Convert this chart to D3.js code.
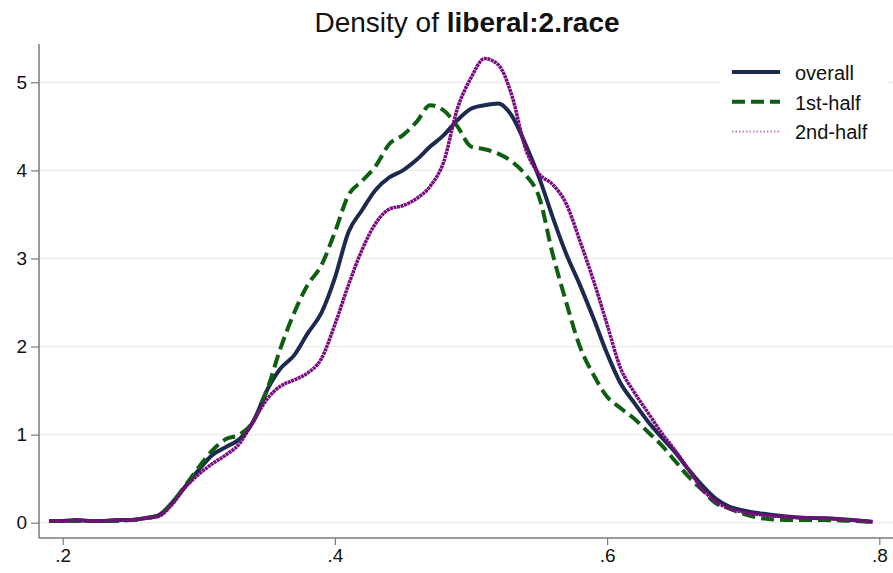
<!DOCTYPE html>
<html>
<head>
<meta charset="utf-8">
<script src="https://cdn.jsdelivr.net/npm/d3@7.9.0/dist/d3.min.js"></script>
<style>
  body { margin: 0; background: #fff; }
  text { font-family: "Liberation Sans", Arial, sans-serif; fill: #111; }
</style>
</head>
<body>
<svg id="chart" width="893" height="573"></svg>
<script>
// grid of x values shared by the three density curves
const xs = [0.19, 0.20, 0.21, 0.22, 0.23, 0.24, 0.25, 0.26, 0.27, 0.28, 0.29, 0.30,
  0.31, 0.32, 0.33, 0.34, 0.35, 0.36, 0.37, 0.38, 0.39, 0.40, 0.41, 0.42, 0.43,
  0.44, 0.45, 0.46, 0.47, 0.48, 0.49, 0.50, 0.51, 0.52, 0.53, 0.54, 0.55, 0.56,
  0.57, 0.58, 0.59, 0.60, 0.61, 0.62, 0.63, 0.64, 0.65, 0.66, 0.67, 0.68, 0.69,
  0.70, 0.72, 0.74, 0.76, 0.78, 0.795];

const overall = [0.02, 0.02, 0.03, 0.02, 0.02, 0.03, 0.03, 0.05, 0.08, 0.22, 0.41, 0.60,
  0.77, 0.86, 0.95, 1.15, 1.50, 1.75, 1.90, 2.15, 2.38, 2.78, 3.30, 3.55, 3.78,
  3.92, 4.00, 4.12, 4.27, 4.40, 4.57, 4.70, 4.74, 4.76, 4.62, 4.30, 3.92, 3.47,
  3.05, 2.70, 2.32, 1.92, 1.58, 1.36, 1.15, 0.97, 0.80, 0.60, 0.42, 0.27, 0.18,
  0.14, 0.09, 0.06, 0.05, 0.03, 0.01];

const firstHalf = [0.02, 0.02, 0.02, 0.02, 0.02, 0.02, 0.03, 0.05, 0.08, 0.22, 0.42, 0.63,
  0.82, 0.95, 1.00, 1.15, 1.50, 1.98, 2.38, 2.70, 2.92, 3.30, 3.72, 3.88, 4.05,
  4.30, 4.40, 4.55, 4.74, 4.68, 4.50, 4.27, 4.24, 4.19, 4.10, 3.95, 3.70, 3.05,
  2.50, 2.00, 1.68, 1.43, 1.30, 1.18, 1.03, 0.88, 0.70, 0.52, 0.37, 0.22, 0.16,
  0.10, 0.04, 0.03, 0.03, 0.02, 0.01];

const secondHalf = [0.02, 0.02, 0.03, 0.02, 0.02, 0.03, 0.03, 0.05, 0.07, 0.20, 0.40, 0.55,
  0.67, 0.77, 0.90, 1.15, 1.40, 1.55, 1.62, 1.70, 1.86, 2.25, 2.70, 3.10, 3.40,
  3.56, 3.60, 3.68, 3.82, 4.10, 4.70, 5.05, 5.27, 5.20, 4.85, 4.25, 3.96, 3.84,
  3.62, 3.20, 2.75, 2.25, 1.75, 1.48, 1.25, 1.02, 0.82, 0.60, 0.38, 0.24, 0.16,
  0.12, 0.08, 0.06, 0.05, 0.03, 0.01];

const xTicks = [0.2, 0.4, 0.6, 0.8];
const xTickLabels = ['.2', '.4', '.6', '.8'];
const yTicks = [0, 1, 2, 3, 4, 5];

const series = [
  { name: 'overall', values: overall, color: '#1b2a4e', width: 4, dash: null },
  { name: '1st-half', values: firstHalf, color: '#0f5f12', width: 4, dash: '13,6' },
  { name: '2nd-half', values: secondHalf, color: '#7a0a80', width: 3.5, dash: '3,0.6' }
];

const svg = d3.select('#chart');
const x = d3.scaleLinear().domain([0.2, 0.8]).range([62.7, 879.3]);
const y = d3.scaleLinear().domain([0, 5]).range([522.7, 82.3]);
const plotLeft = 39, plotRight = 893, plotTop = 44, plotBottom = 538;

// gridlines
svg.append('g')
  .selectAll('line')
  .data(yTicks)
  .join('line')
  .attr('x1', plotLeft).attr('x2', plotRight)
  .attr('y1', d => y(d)).attr('y2', d => y(d))
  .attr('stroke', '#ebebeb').attr('stroke-width', 1.2);

// axes
const yAxis = d3.axisLeft(y).tickValues(yTicks).tickSize(8).tickPadding(4).tickFormat(d3.format('d'));
const gy = svg.append('g').attr('transform', `translate(${plotLeft},0)`).call(yAxis);
gy.select('.domain').attr('d', `M0,${plotTop}V${plotBottom}`);

const xAxis = d3.axisBottom(x).tickValues(xTicks).tickSize(7).tickPadding(4)
  .tickFormat((d, i) => xTickLabels[i]);
const gx = svg.append('g').attr('transform', `translate(0,${plotBottom})`).call(xAxis);
gx.select('.domain').attr('d', `M${plotLeft},0H${plotRight}`);

[gx, gy].forEach(g => {
  g.select('.domain').attr('stroke', '#7a7a7a').attr('stroke-width', 1.5);
  g.selectAll('.tick line').attr('stroke', '#7a7a7a').attr('stroke-width', 1.2);
  g.selectAll('.tick text').attr('font-size', 19).attr('fill', '#111')
    .attr('font-family', '"Liberation Sans", Arial, sans-serif');
});

// curves
const line = d3.line()
  .x((d, i) => x(xs[i]))
  .y(d => y(d))
  .curve(d3.curveMonotoneX);

series.forEach(s => {
  svg.append('path')
    .datum(s.values)
    .attr('d', line)
    .attr('fill', 'none')
    .attr('stroke', s.color)
    .attr('stroke-width', s.width)
    .attr('stroke-linejoin', 'round')
    .attr('stroke-dasharray', s.dash);
});

// legend
const legend = svg.append('g');
legend.append('rect')
  .attr('x', 720).attr('y', 56).attr('width', 168).attr('height', 94)
  .attr('fill', '#fff');
series.forEach((s, i) => {
  const ly = 72 + i * 29.7;
  legend.append('line')
    .attr('x1', 732).attr('x2', 780)
    .attr('y1', ly).attr('y2', ly)
    .attr('stroke', s.color)
    .attr('stroke-width', s.name === '2nd-half' ? 2 : 4)
    .attr('stroke-dasharray', s.name === '2nd-half' ? '1.5,2' : s.dash)
    .attr('opacity', s.name === '2nd-half' ? 0.5 : 1);
  legend.append('text')
    .attr('x', 795).attr('y', ly + 8)
    .attr('font-size', 20)
    .text(s.name);
});

// title
const title = svg.append('text')
  .attr('x', 467).attr('y', 32)
  .attr('text-anchor', 'middle')
  .attr('font-size', 28);
title.append('tspan').text('Density of ');
title.append('tspan').attr('font-weight', 'bold').text('liberal:2.race');
</script>
</body>
</html>
